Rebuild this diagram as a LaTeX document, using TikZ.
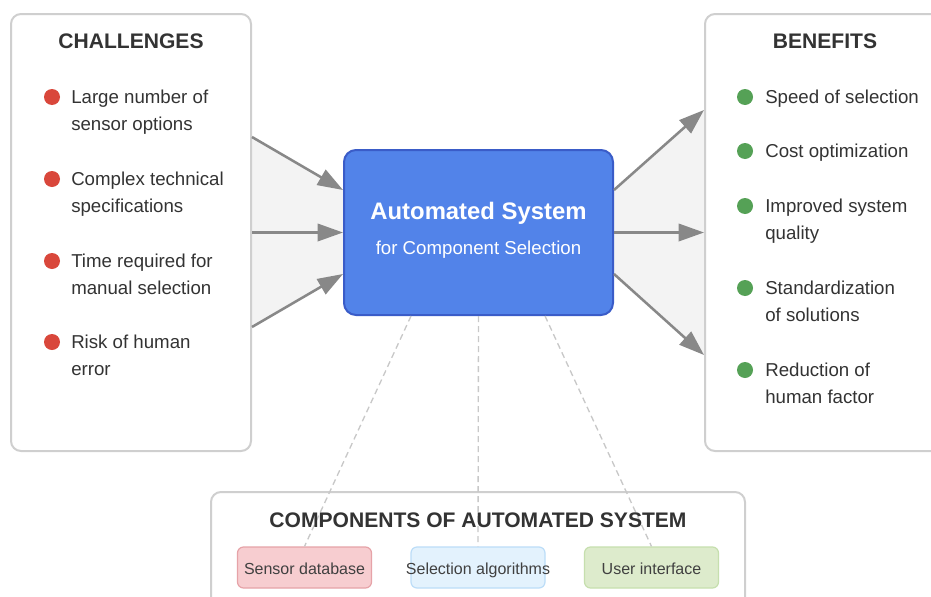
\documentclass[tikz,border=0pt]{standalone}
\usepackage{fontspec}
\setmainfont{Liberation Sans}
\usepackage{tikz}
\usetikzlibrary{calc,arrows.meta,positioning,backgrounds}
\usepackage{xcolor}
\definecolor{panelline}{HTML}{CFCFCF}
\definecolor{textdark}{HTML}{333333}
\definecolor{sysfill}{HTML}{5283E9}
\definecolor{sysline}{HTML}{3A5CC8}
\definecolor{flowgray}{HTML}{888888}
\definecolor{funnelgray}{HTML}{F3F3F3}
\definecolor{dashgray}{HTML}{C8C8C8}
\definecolor{reddot}{HTML}{D9473B}
\definecolor{greendot}{HTML}{55A156}
\definecolor{dbfill}{HTML}{F7CDD0}
\definecolor{dbline}{HTML}{E6A3A8}
\definecolor{algfill}{HTML}{E3F2FD}
\definecolor{algline}{HTML}{BCDDF8}
\definecolor{uifill}{HTML}{DDEBCC}
\definecolor{uiline}{HTML}{C6DFAE}
\newcommand{\itemlines}[1]{\begin{tabular}[t]{@{}l@{}}#1\end{tabular}}

\begin{document}
\begin{tikzpicture}[x=0.75pt, y=-0.75pt,
	panel/.style={draw=panelline, line width=1.5pt, rounded corners=7.5pt, fill=white},
	heading/.style={text=textdark, font=\bfseries\fontsize{15.8}{19}\selectfont},
	dot/.style={circle, minimum size=12pt, inner sep=0pt},
	item/.style={anchor=base west, inner sep=0pt, text=textdark, font=\fontsize{14}{20.25}\selectfont},
	flow/.style={draw=flowgray, line width=1.9pt, -{Triangle[length=19pt, width=13pt]}},
	link/.style={draw=dashgray, line width=1pt, dash pattern=on 4.5pt off 3pt},
	compbox/.style={rounded corners=4.5pt, line width=0.9pt, minimum width=100.5pt, minimum height=30.75pt, inner sep=0pt, text height=12pt, text depth=0.8pt, text=black!75, font=\fontsize{12}{14}\selectfont}]
	\clip (0,0) rectangle (931,596);

	\node[panel, minimum width=180pt, minimum height=327.75pt] (chal) at (131,232.5) {};
	\node[heading] at (131,41) {CHALLENGES};
	\node[panel, minimum width=180pt, minimum height=327.75pt] (bene) at (825,232.5) {};
	\node[heading] at (825,41) {BENEFITS};
	\node[panel, minimum width=400.5pt, minimum height=90pt] (comp) at (478,552) {};

	\node[draw=sysline, fill=sysfill, line width=1.5pt, rounded corners=9pt, minimum width=201.75pt, minimum height=123.75pt] (sys) at (478.5,232.5) {};
	\node[anchor=base, text=white, font=\bfseries\fontsize{17.9}{21}\selectfont] (systitle) at ($(sys)+(0,-13.5)$) {Automated System};
	\node[anchor=base, text=white, font=\fontsize{14}{17}\selectfont] (syssub) at ($(sys)+(0,21.5)$) {for Component Selection};

	\foreach \y/\txt [count=\i] in {97/{Large number of\\sensor options}, 179/{Complex technical\\specifications}, 261/{Time required for\\manual selection}, 342/{Risk of human\\error}}
	{
		\node[dot, fill=reddot] (cb\i) at (52,\y) {};
		\node[item] (ct\i) at ($(cb\i)+(19,6.3)$) {\itemlines{\txt}};
	}
	\foreach \y/\txt [count=\i] in {97/{Speed of selection}, 151/{Cost optimization}, 206/{Improved system\\quality}, 288/{Standardization\\of solutions}, 370/{Reduction of\\human factor}}
	{
		\node[dot, fill=greendot] (bb\i) at (745,\y) {};
		\node[item] (bt\i) at ($(bb\i)+(20,6.3)$) {\itemlines{\txt}};
	}

	\node[compbox, draw=dbline, fill=dbfill] (db) at (304.5,567.5) {\makebox[0pt]{Sensor database}};
	\node[compbox, draw=algline, fill=algfill] (alg) at (478,567.5) {\makebox[0pt]{Selection algorithms}};
	\node[compbox, draw=uiline, fill=uifill] (ui) at (651.5,567.5) {\makebox[0pt]{User interface}};

	\begin{scope}[on background layer]
		\fill[funnelgray] ($(chal.east)+(0,-95.5)$) -- ($(sys.west)+(0,-42.5)$) -- ($(sys.west)+(0,41.5)$) -- ($(chal.east)+(0,94.5)$) -- cycle;
		\fill[funnelgray] ($(sys.east)+(0,-42.5)$) -- ($(bene.west)+(0,-122.5)$) -- ($(bene.west)+(0,122.5)$) -- ($(sys.east)+(0,41.5)$) -- cycle;
	\end{scope}

	\draw[link] ([xshift=-50.6pt]sys.south) -- (db.north);
	\draw[link] (sys.south) -- (alg.north);
	\draw[link] ([xshift=49.9pt]sys.south) -- (ui.north);
	\node[heading] at (478,520) {COMPONENTS OF AUTOMATED SYSTEM};

	\draw[flow] ($(chal.east)+(0,-95.5)$) -- ($(sys.west)+(0,-42.5)$);
	\draw[flow] (chal.east) -- (sys.west);
	\draw[flow] ($(chal.east)+(0,94.5)$) -- ($(sys.west)+(0,41.5)$);
	\draw[flow] ($(sys.east)+(0,-42.5)$) -- ($(bene.west)+(0,-122.5)$);
	\draw[flow] (sys.east) -- (bene.west);
	\draw[flow] ($(sys.east)+(0,41.5)$) -- ($(bene.west)+(0,122.5)$);
\end{tikzpicture}
\end{document}
